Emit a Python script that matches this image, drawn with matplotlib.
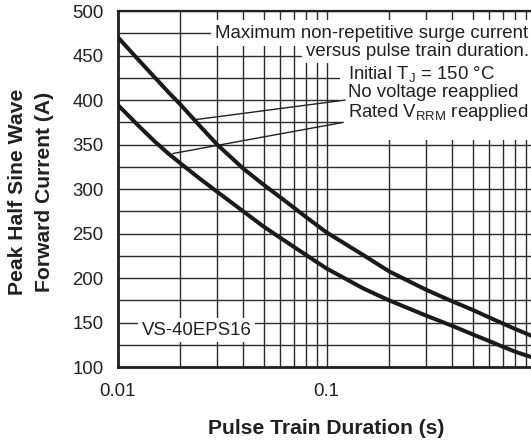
import matplotlib
matplotlib.use("Agg")
import matplotlib.pyplot as plt
from matplotlib.patches import Rectangle
from matplotlib.ticker import FixedLocator, FixedFormatter, NullFormatter

# ---- data ----
duration_s = [0.01, 0.0125, 0.015, 0.0175, 0.02, 0.025, 0.03, 0.04, 0.05, 0.06,
              0.07, 0.08, 0.09, 0.1, 0.15, 0.2, 0.3, 0.4, 0.5, 0.6, 0.7, 0.8, 0.9, 1.0]
no_voltage_A = [471, 446, 426, 409, 395, 370, 350, 323, 305, 291,
                279, 268.5, 259.5, 251.5, 226, 207.5, 187, 174, 164.5, 156, 149, 143, 138, 133.5]
rated_vrrm_A = [395, 372, 354, 340, 329, 311, 297, 275, 258, 245.5,
                235, 226, 218, 211, 188.5, 175, 158, 146.5, 137, 129.5, 123, 117.5, 113.5, 110]
x_tick_values = [0.01, 0.1, 1]
x_tick_labels = ["0.01", "0.1", "1"]
y_tick_values = [100, 150, 200, 250, 300, 350, 400, 450, 500]

INK = "#231f20"
FONT = "Liberation Sans"
FS = 13.4
FS_LABEL = 15.2

plt.rcParams['font.family'] = [FONT, 'DejaVu Sans']
plt.rcParams['mathtext.fontset'] = 'custom'
plt.rcParams['mathtext.rm'] = FONT
plt.rcParams['mathtext.it'] = FONT

W, H = 531, 443
fig = plt.figure(figsize=(W / 100, H / 100), dpi=100)
fig.patch.set_facecolor("white")

left_px, right_px, top_px, bottom_px = 117.5, 535.5, 11.0, 367.3
ax = fig.add_axes([left_px / W, 1 - bottom_px / H,
                   (right_px - left_px) / W, (bottom_px - top_px) / H])
ax.set_xscale("log")
ax.set_xlim(0.01, 1)
ax.set_ylim(100, 500)

# grid
minor_x = [m * d for d in (0.01, 0.1) for m in range(2, 10)]
ax.xaxis.set_major_locator(FixedLocator(x_tick_values))
ax.xaxis.set_major_formatter(FixedFormatter(x_tick_labels))
ax.xaxis.set_minor_locator(FixedLocator(minor_x))
ax.xaxis.set_minor_formatter(NullFormatter())
ax.yaxis.set_major_locator(FixedLocator(y_tick_values))
ax.yaxis.set_minor_locator(FixedLocator([v + 25 for v in y_tick_values[:-1]]))
ax.grid(True, which="both", color="#2b2b2b", lw=1.0, zorder=1)
ax.set_axisbelow(True)

ax.tick_params(which="both", length=0)
ax.tick_params(axis="y", pad=10.0, labelsize=FS, labelcolor=INK)
ax.tick_params(axis="x", pad=11.0, labelsize=FS, labelcolor=INK)

for side in ("left", "bottom"):
    ax.spines[side].set_linewidth(2.0)
    ax.spines[side].set_color(INK)
ax.spines["top"].set_linewidth(1.6)
ax.spines["top"].set_color(INK)
ax.spines["right"].set_visible(False)

# curves
ax.plot(duration_s, no_voltage_A, color="#1a1a1a", lw=2.9, zorder=5,
        solid_capstyle="butt", solid_joinstyle="round")
ax.plot(duration_s, rated_vrrm_A, color="#1a1a1a", lw=2.9, zorder=5,
        solid_capstyle="butt", solid_joinstyle="round")


def boxed_text(x, y, s, pad, transform=None, **kw):
    """White background box drawn under every text, then the text on top."""
    tr = transform if transform is not None else ax.transData
    ax.text(x, y, s, transform=tr, fontsize=FS, color="white", alpha=1.0,
            bbox=dict(boxstyle=f"square,pad={pad}", fc="white", ec="none"),
            zorder=2, **kw)
    ax.text(x, y, s, transform=tr, fontsize=FS, color=INK, zorder=3, **kw)


yx = ax.get_yaxis_transform()
# title block (right aligned at the right edge of the picture)
edge = (528.5 - left_px) / (right_px - left_px)
boxed_text(edge, 475, "Maximum non-repetitive surge current", 0.25, transform=yx,
           ha="right", va="center")
boxed_text(edge, 455, "versus pulse train duration.", 0.2, transform=yx,
           ha="right", va="center")

# white panel behind the conditions block, running out to the right edge
ax.add_patch(Rectangle((0.5395, 0.638), 0.5, 0.219, transform=ax.transAxes,
                       fc="white", ec="none", zorder=2, clip_on=False))

# conditions block
cond_x = 0.1265
boxed_text(cond_x, 429, "Initial T$_\\mathregular{J}$ = 150 °C", 0.4, ha="left", va="center")
boxed_text(cond_x, 408, "No voltage reapplied", 0.4, ha="left", va="center")
boxed_text(cond_x, 386, "Rated V$_\\mathregular{RRM}$ reapplied", 0.3, ha="left", va="center")

# leader lines
ax.annotate("", xy=(0.0235, 378), xytext=(0.1226, 400),
            arrowprops=dict(arrowstyle="-", lw=1.0, color=INK, shrinkA=0, shrinkB=0), zorder=4)
ax.annotate("", xy=(0.0184, 340), xytext=(0.1203, 375),
            arrowprops=dict(arrowstyle="-", lw=1.0, color=INK, shrinkA=0, shrinkB=0), zorder=4)

# part number
boxed_text(0.01306, 141.6, "VS-40EPS16", 0.2, ha="left", va="center")

# axis labels
fig.text(18 / W, 1 - 191.5 / H, "Peak Half Sine Wave", rotation=90, ha="center", va="center",
         fontsize=FS_LABEL, fontweight="bold", color=INK)
fig.text(45 / W, 1 - 191.5 / H, "Forward Current (A)", rotation=90, ha="center", va="center",
         fontsize=FS_LABEL, fontweight="bold", color=INK)
fig.text(326.5 / W, 1 - 428 / H, "Pulse Train Duration (s)", ha="center", va="center",
         fontsize=FS_LABEL, fontweight="bold", color=INK)

fig.savefig("out.png", dpi=100, facecolor="white")
